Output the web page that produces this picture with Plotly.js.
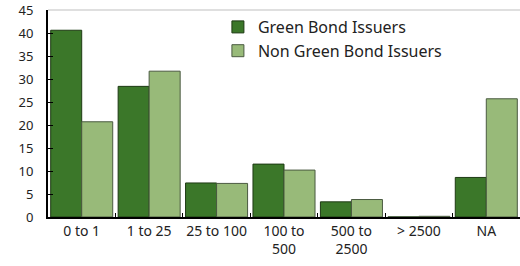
<!DOCTYPE html>
<html>
<head>
<meta charset="utf-8">
<script src="https://cdn.plot.ly/plotly-3.0.1.min.js"></script>
<style>html,body{margin:0;padding:0;background:#fff;}#chart{width:520px;height:266px;}</style>
</head>
<body>
<div id="chart"></div>
<script>
const categories = ["0 to 1", "1 to 25", "25 to 100", "100 to<br>500", "500 to<br>2500", "> 2500", "NA"];
const greenIssuers = [40.6, 28.4, 7.4, 11.5, 3.3, 0, 8.6];
const nonGreenIssuers = [20.7, 31.7, 7.3, 10.2, 3.8, 0.15, 25.7];
const yTicks = [0, 5, 10, 15, 20, 25, 30, 35, 40, 45];

const FONT = "Noto Sans, Open Sans, sans-serif";
const traces = [
  {type: "bar", name: "Green Bond Issuers", x: categories, y: greenIssuers, legendgroup: "g1",
   marker: {color: "#3B7729", line: {color: "#1E3A14", width: 1}}},
  {type: "bar", name: "Non Green Bond Issuers", x: categories, y: nonGreenIssuers, legendgroup: "g2",
   marker: {color: "#98BA79", line: {color: "#4A5A40", width: 1}}},
  {type: "scatter", mode: "none", x: categories, y: greenIssuers, yaxis: "y2",
   showlegend: false, hoverinfo: "skip"}
];
const layout = {
  width: 520, height: 266,
  margin: {l: 48, r: 0, t: 10, b: 49},
  paper_bgcolor: "#fff", plot_bgcolor: "#fff",
  font: {family: FONT, size: 14, color: "#222"},
  barmode: "group", bargap: 0.08, bargroupgap: 0,
  showlegend: true,
  legend: {x: 0.36, y: 1.0, xanchor: "left", yanchor: "top",
           bgcolor: "rgba(0,0,0,0)", traceorder: "grouped", tracegroupgap: 0,
           font: {family: FONT, size: 16, color: "#222"}, itemwidth: 30},
  xaxis: {type: "category", range: [-0.5, 6.5], showline: true, linecolor: "#000", linewidth: 2,
          ticks: "inside", tickson: "boundaries", ticklen: 4, tickcolor: "#000", tickwidth: 1,
          tickangle: 0, showgrid: false, zeroline: false, automargin: false},
  yaxis: {range: [0, 45], tickvals: yTicks, showline: true, linecolor: "#000", linewidth: 2,
          ticks: "outside", ticklen: 10, tickcolor: "rgba(0,0,0,0)",
          tickfont: {family: FONT, size: 13, color: "#222"}, ticklabeloverflow: "allow",
          showgrid: false, zeroline: false, automargin: false},
  yaxis2: {overlaying: "y", side: "left", range: [0, 45], tickvals: yTicks, showticklabels: false,
           showline: false, ticks: "inside", ticklen: 5, tickcolor: "#000", tickwidth: 1,
           showgrid: false, zeroline: false, automargin: false},
  shapes: [{type: "line", xref: "paper", yref: "paper", x0: 0, x1: 1, y0: 1, y1: 1,
            line: {color: "#BFBFBF", width: 1}}]
};
Plotly.newPlot("chart", traces, layout, {displayModeBar: false, staticPlot: true});
</script>
</body>
</html>
